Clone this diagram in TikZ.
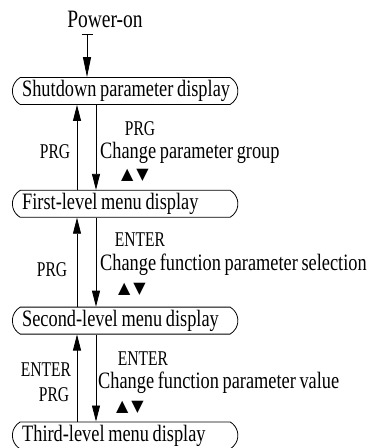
\documentclass[tikz,border=0pt]{standalone}
\usepackage{fontspec}
\setmainfont{Liberation Serif}[FakeStretch=0.78, WordSpace=0.8]
\newfontfamily\keyfont{Liberation Serif}[FakeStretch=0.74]
\newfontfamily\symfont{DejaVu Sans}
\usetikzlibrary{arrows.meta,positioning,shapes.misc}
\newcommand{\updown}{{\symfont\fontsize{16pt}{18pt}\selectfont ▲\hspace{3pt}▼}}

\begin{document}
\begin{tikzpicture}[
  x=1pt, y=-1pt,
  font=\fontsize{23.5pt}{27pt}\selectfont,
  node distance=86pt,
  menu/.style={draw, rounded rectangle, rounded rectangle arc length=120, minimum height=27pt, inner xsep=1.5pt, inner ysep=0pt, line width=0.8pt,
    execute at begin node={\hbox to 214pt\bgroup\hspace{4pt}}, execute at end node={\hfil\egroup}},
  arr/.style={-{Triangle[length=16pt,width=8pt]}, line width=0.8pt},
  key/.style={font=\keyfont\fontsize{21pt}{25pt}\selectfont, inner sep=0pt},
  act/.style={anchor=west, inner sep=0pt},
]
\useasboundingbox (0,0) rectangle (376,448);
\node[font=\fontsize{25pt}{29pt}\selectfont] (power) at (105,19) {Power-on};
\node[menu, anchor=west] (shut) at (12,91) {Shutdown parameter display};
\node[menu, below=85pt of shut] (first) {First-level menu display};
\node[menu, below=89pt of first] (second) {Second-level menu display};
\node[menu, below=87pt of second] (third) {Third-level menu display};
\coordinate (upx) at (77,0);
\coordinate (dnx) at (96,0);
\coordinate (tap) at (87,34);
\draw[line width=0.8pt, {Bar[width=11pt]}-{Triangle[length=20pt,width=8pt]}] (tap) -- (shut.north -| tap);
\draw[arr] (first.north -| upx) -- (shut.south -| upx);
\draw[arr] (shut.south -| dnx) -- (first.north -| dnx);
\draw[arr] (second.north -| upx) -- (first.south -| upx);
\draw[arr] (first.south -| dnx) -- (second.north -| dnx);
\draw[arr] (third.north -| upx) -- (second.south -| upx);
\draw[arr] (second.south -| dnx) -- (third.north -| dnx);
% shutdown <-> first level
\node[key] (prg-a) at (55,152) {PRG};
\node[key] (prg-a2) at (140,129) {PRG};
\node[act] (grp) at (100,153) {Change parameter group};
\node (ud-a) at (135,175) {\updown};
% first <-> second level
\node[key] (prg-b) at (52,270) {PRG};
\node[key] (ent-b) at (140,240) {ENTER};
\node[act] (sel) at (100,265) {Change function parameter selection};
\node (ud-b) at (132,289) {\updown};
% second <-> third level
\node[key] (ent-c) at (46,370) {ENTER};
\node[key] (prg-c) at (54,395) {PRG};
\node[key] (ent-c2) at (143,359) {ENTER};
\node[act] (val) at (98,383) {Change function parameter value};
\node (ud-c) at (130,407) {\updown};
\end{tikzpicture}
\end{document}
